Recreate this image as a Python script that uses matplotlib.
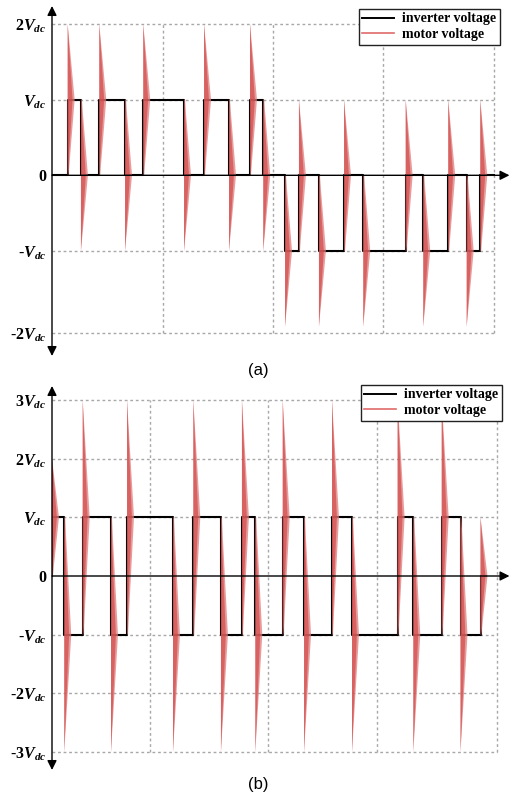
"""
Inverter output voltage vs motor terminal voltage (reflected wave spikes).
(a) unipolar switching, (b) bipolar switching.
"""

import numpy as np
import matplotlib.pyplot as plt
from matplotlib.lines import Line2D

plt.rcParams['mathtext.fontset'] = 'custom'
plt.rcParams['mathtext.rm'] = 'Liberation Serif:bold'
plt.rcParams['mathtext.it'] = 'Liberation Serif:italic:bold'
plt.rcParams['mathtext.bf'] = 'Liberation Serif:bold'

### switching instants (time units, one grid cell of panel (a) = 1) and levels (x Vdc)
edges_a = [0.142, 0.262, 0.428, 0.661, 0.826, 1.195, 1.376, 1.602, 1.792, 1.912,
           2.109, 2.235, 2.416, 2.643, 2.817, 3.201, 3.360, 3.586, 3.753, 3.876]
levels_a = [1, 0, 1, 0, 1, 0, 1, 0, 1, 0,
            -1, 0, -1, 0, -1, 0, -1, 0, -1, 0]
start_a, end_a = 0, 4.0

edges_b = [0.0, 0.111, 0.278, 0.534, 0.679, 1.095, 1.279, 1.529, 1.719, 1.840,
           2.088, 2.281, 2.534, 2.715, 3.128, 3.270, 3.527, 3.697, 3.878]
levels_b = [1, -1, 1, -1, 1, -1, 1, -1, 1, -1,
            1, -1, 1, -1, 1, -1, 1, -1, 0]
start_b, end_b = 0, 3.93

### grid positions
vgrid_a = [1.0, 2.0, 3.0, 4.0]
hgrid_a = [2, 1, -1, -2.08]
ticks_a = [2, 1, 0, -1, -2.08]
ticklabels_a = ['2$V_{dc}$', '$V_{dc}$', '0', '-$V_{dc}$', '-2$V_{dc}$']

vgrid_b = [0.887, 1.955, 2.941, 4.027]
hgrid_b = [3, 2, 1, -1, -2, -3]
ticks_b = [3, 2, 1, 0, -1, -2, -3]
ticklabels_b = ['3$V_{dc}$', '2$V_{dc}$', '$V_{dc}$', '0',
                '-$V_{dc}$', '-2$V_{dc}$', '-3$V_{dc}$']

spike_w = 0.063          # decay length of the ringing
red = '#d95555'
gridc = '#a8a8a8'

W, H = 512, 796
fig = plt.figure(figsize=(W / 100, H / 100), dpi=100)


def px_axes(x0, y0, x1, y1):
    return fig.add_axes([x0 / W, 1 - y1 / H, (x1 - x0) / W, (y1 - y0) / H])


def draw_panel(ax, edges, levels, t0, t1, vgrid, hgrid, ticks, labels, ytop, ybot):
    # grid
    gtop, gbot = max(hgrid), min(hgrid)
    for g in hgrid:
        ax.plot([0, vgrid[-1]], [g, g], color=gridc, lw=1.0, ls=(0, (2, 2)), zorder=1)
    for g in vgrid:
        ax.plot([g, g], [gbot, gtop], color=gridc, lw=1.0, ls=(0, (2, 2)), zorder=1)

    # inverter voltage (step waveform)
    t = [t0] + list(edges) + [t1]
    v = [0] + list(levels) + [levels[-1]]
    ax.step(t, v, where='post', color='black', lw=1.5, zorder=3)

    # motor voltage ringing at every switching edge
    old = [0] + list(levels[:-1])
    for te, vo, vn in zip(edges, old, levels):
        peak = 2 * vn - vo
        ax.fill([te, te + spike_w, te + spike_w * 0.12, te], [peak, vn, vo, vo],
                color='#e07a7a', alpha=0.75, lw=0, zorder=4)
        ax.fill([te, te + spike_w * 0.7, te], [peak, vn, vo],
                color='#d24a4a', alpha=0.7, lw=0, zorder=4)

    # axes with arrows
    ax.annotate('', xy=(0, ytop), xytext=(0, ybot),
                arrowprops=dict(arrowstyle='<|-|>', color='black', lw=1.0,
                                mutation_scale=14, shrinkA=0, shrinkB=0), zorder=5)
    ax.annotate('', xy=(4.14, 0), xytext=(0, 0),
                arrowprops=dict(arrowstyle='-|>', color='black', lw=1.0,
                                mutation_scale=14, shrinkA=0, shrinkB=0), zorder=5)

    ax.set_yticks(ticks)
    ax.set_yticklabels(labels, family='Liberation Serif', weight='bold', fontsize=11.5)
    ax.tick_params(axis='y', length=0, pad=4)
    ax.set_xticks([])
    for s in ax.spines.values():
        s.set_visible(False)


### panel (a)
ax1 = px_axes(52, 0, 512, 362)
ax1.set_xlim(0, 460 / 110.5)
ax1.set_ylim(-(362 - 175.3) / 75.65, 175.3 / 75.65)
draw_panel(ax1, edges_a, levels_a, start_a, end_a, vgrid_a, hgrid_a,
           ticks_a, ticklabels_a, (175.3 - 6) / 75.65, -(356 - 175.3) / 75.65)

### panel (b)
ax2 = px_axes(52, 380, 512, 775)
ax2.set_xlim(0, 460 / 110.5)
ax2.set_ylim(-(775 - 576) / 58.67, (576 - 380) / 58.67)
draw_panel(ax2, edges_b, levels_b, start_b, end_b, vgrid_b, hgrid_b,
           ticks_b, ticklabels_b, (576 - 386) / 58.67, -(770 - 576) / 58.67)

### legends
handles = [Line2D([], [], color='black', lw=1.4), Line2D([], [], color='#e06a6a', lw=1.2)]
names = ['inverter voltage', 'motor voltage']
for anchor in [(500 / W, 1 - 9 / H), (502 / W, 1 - 385 / H)]:
    leg = fig.legend(handles, names, loc='upper right', bbox_to_anchor=anchor,
                     prop={'family': 'Liberation Serif', 'weight': 'bold', 'size': 10},
                     fancybox=False, edgecolor='#222222', framealpha=1,
                     borderpad=0.25, handlelength=2.3, labelspacing=0.2,
                     handletextpad=0.6, borderaxespad=0)
    leg.get_frame().set_linewidth(1.0)

### captions
fig.text(258 / W, 1 - 371 / H, '(a)', family='Liberation Sans', fontsize=12,
         ha='center', va='center')
fig.text(258 / W, 1 - 785 / H, '(b)', family='Liberation Sans', fontsize=12,
         ha='center', va='center')

plt.savefig('out.png', dpi=100)
